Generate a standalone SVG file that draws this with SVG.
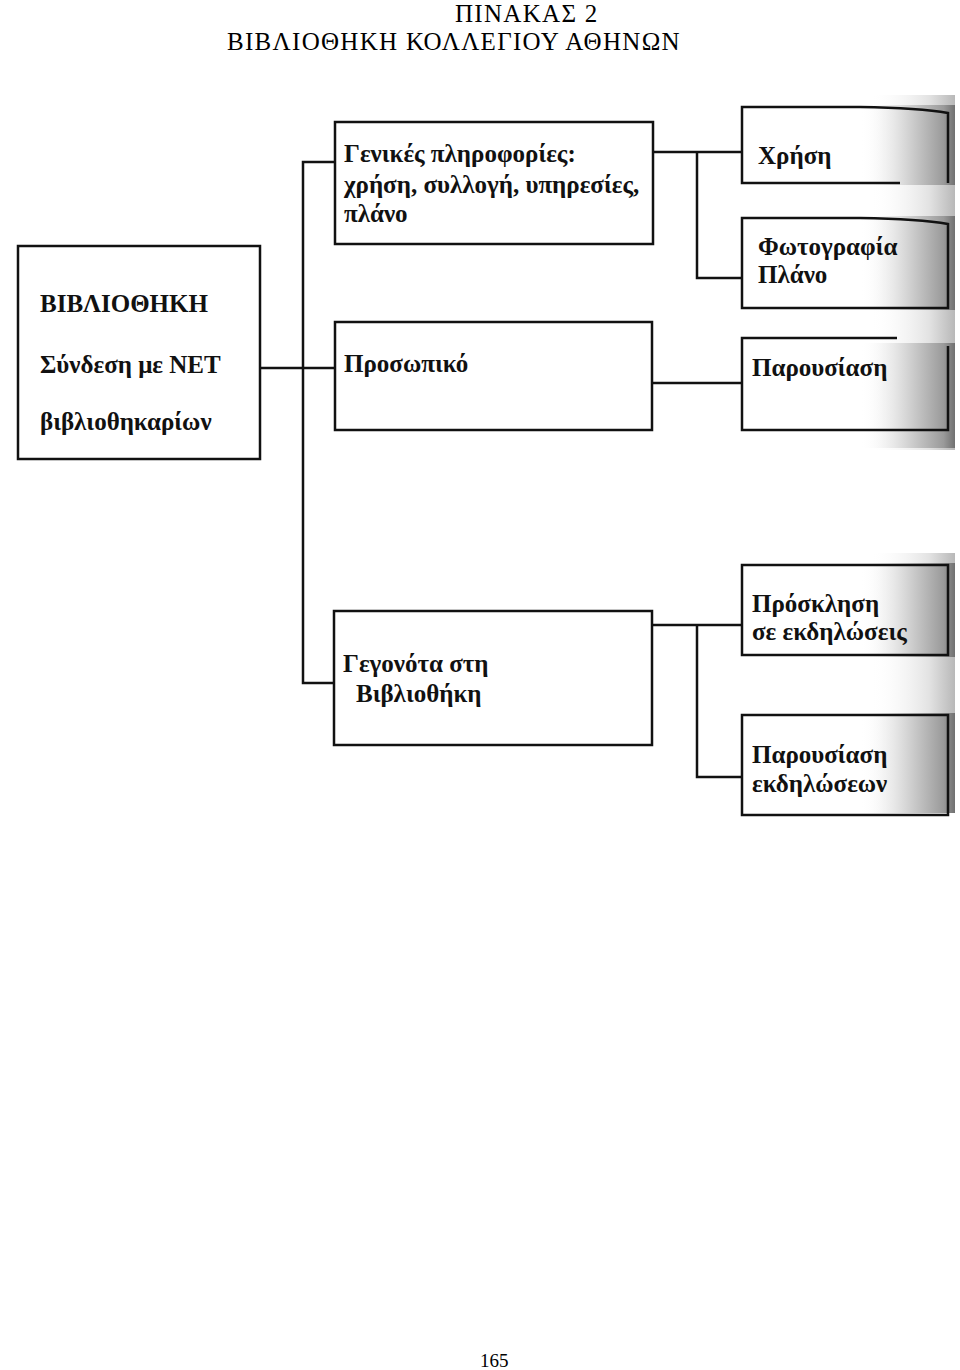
<svg xmlns="http://www.w3.org/2000/svg" width="960" height="1370" viewBox="0 0 960 1370">
<defs>
<linearGradient id="shade" x1="0" y1="0" x2="1" y2="0">
<stop offset="0" stop-color="#ffffff" stop-opacity="0"/>
<stop offset="0.5" stop-color="#d4d4d4"/>
<stop offset="0.88" stop-color="#9a9a9a"/>
<stop offset="1" stop-color="#707070"/>
</linearGradient>
<linearGradient id="shadeLight" x1="0" y1="0" x2="1" y2="0">
<stop offset="0" stop-color="#ffffff" stop-opacity="0"/>
<stop offset="0.7" stop-color="#e2e2e2"/>
<stop offset="1" stop-color="#b8b8b8"/>
</linearGradient>
</defs>
<style>
.box{fill:none;stroke:#111;stroke-width:2.5}
.ln{fill:none;stroke:#111;stroke-width:2.5}
.t{font-family:"Liberation Serif","Times New Roman",serif;font-weight:bold;font-size:25px;fill:#111}
.title{font-family:"Liberation Serif","Times New Roman",serif;font-size:25px;letter-spacing:1.3px;fill:#000}
.pg{font-family:"Liberation Serif","Times New Roman",serif;font-size:19px;fill:#000}
</style>
<rect width="960" height="1370" fill="#fff"/>
<text class="title" x="455" y="22">ΠΙΝΑΚΑΣ 2</text>
<text class="title" x="227" y="50">ΒΙΒΛΙΟΘΗΚΗ ΚΟΛΛΕΓΙΟΥ ΑΘΗΝΩΝ</text>
<g id="shading">
<rect x="870" y="95" width="85" height="355" fill="url(#shadeLight)"/>
<rect x="860" y="105" width="95" height="80" fill="url(#shade)"/>
<rect x="860" y="216" width="95" height="94" fill="url(#shade)"/>
<rect x="860" y="343" width="95" height="105" fill="url(#shade)"/>
<rect x="870" y="553" width="85" height="260" fill="url(#shadeLight)"/>
<rect x="860" y="563" width="95" height="94" fill="url(#shade)"/>
<rect x="860" y="713" width="95" height="100" fill="url(#shade)"/>
</g>
<g id="connectors">
<polyline class="ln" points="260,368 335,368"/>
<polyline class="ln" points="335,162 303,162 303,683 335,683"/>
<polyline class="ln" points="653,152 742,152"/>
<polyline class="ln" points="697,152 697,278 742,278"/>
<polyline class="ln" points="652,383 742,383"/>
<polyline class="ln" points="652,625 742,625"/>
<polyline class="ln" points="697,625 697,777 742,777"/>
</g>
<g id="biblio">
<rect class="box" x="18" y="246" width="242" height="213"/>
<text class="t" x="40" y="312">ΒΙΒΛΙΟΘΗΚΗ</text>
<text class="t" x="40" y="373">Σύνδεση με NET</text>
<text class="t" x="40" y="430">βιβλιοθηκαρίων</text>
</g>
<g id="genikes">
<rect class="box" x="335" y="122" width="318" height="122"/>
<text class="t" x="344" y="162">Γενικές πληροφορίες:</text>
<text class="t" x="344" y="193">χρήση, συλλογή, υπηρεσίες,</text>
<text class="t" x="344" y="222">πλάνο</text>
</g>
<g id="prosopiko">
<rect class="box" x="335" y="322" width="317" height="108"/>
<text class="t" x="344" y="372">Προσωπικό</text>
</g>
<g id="gegonota">
<rect class="box" x="334" y="611" width="318" height="134"/>
<text class="t" x="343" y="672">Γεγονότα στη</text>
<text class="t" x="356" y="702">Βιβλιοθήκη</text>
</g>
<g id="xrisi">
<path class="box" d="M900,183 L742,183 L742,107 L860,107 Q920,108 948,113 L948,183"/>
<text class="t" x="758" y="164">Χρήση</text>
</g>
<g id="fotografia">
<path class="box" d="M742,218 L860,218 Q920,219 948,224 L948,308 L742,308 Z"/>
<text class="t" x="758" y="255">Φωτογραφία</text>
<text class="t" x="758" y="283">Πλάνο</text>
</g>
<g id="parousiasi">
<path class="box" d="M897,338 L742,338 L742,430 L948,430 L948,346"/>
<text class="t" x="752" y="376">Παρουσίαση</text>
</g>
<g id="prosklisi">
<rect class="box" x="742" y="565" width="206" height="90"/>
<text class="t" x="752" y="612">Πρόσκληση</text>
<text class="t" x="752" y="640">σε εκδηλώσεις</text>
</g>
<g id="parousiasi-ekd">
<rect class="box" x="742" y="715" width="206" height="100"/>
<text class="t" x="752" y="763">Παρουσίαση</text>
<text class="t" x="752" y="792">εκδηλώσεων</text>
</g>
<text class="pg" x="480" y="1367">165</text>
</svg>
